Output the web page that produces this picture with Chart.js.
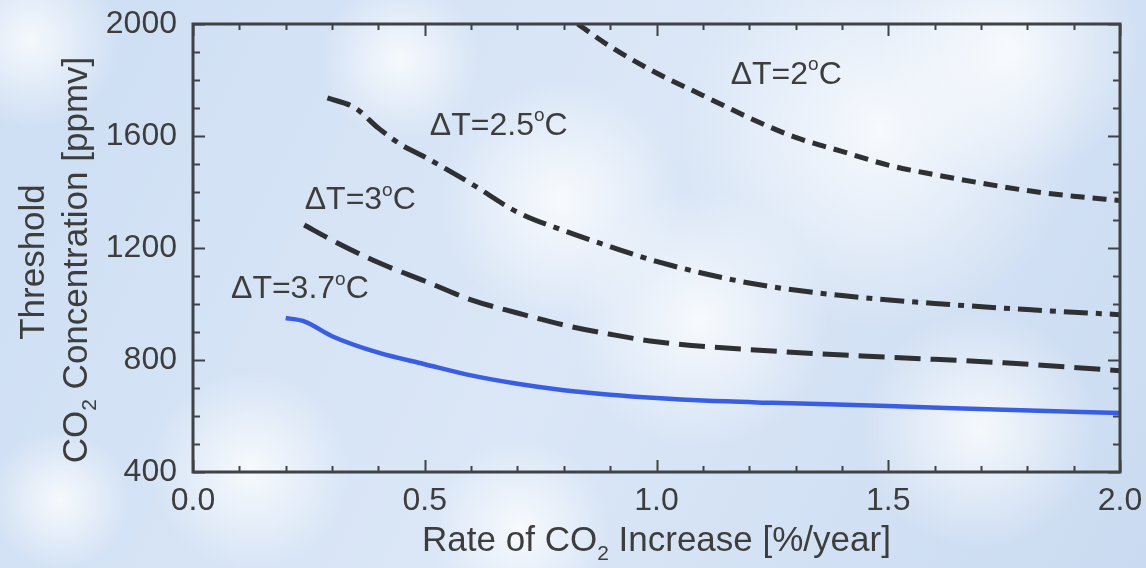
<!DOCTYPE html>
<html>
<head>
<meta charset="utf-8">
<script src="https://cdn.jsdelivr.net/npm/chart.js@4"></script>
<style>
  html, body { margin: 0; padding: 0; background: #d9e6f6; }
  canvas { display: block; }
</style>
</head>
<body>
<canvas id="chart" width="1146" height="568"></canvas>
<script>
// values
const rate37 = [0.20, 0.24, 0.30, 0.40, 0.50, 0.60, 0.70, 0.80, 0.90, 1.00, 1.10, 1.25, 1.50, 1.75, 2.00];
const co2_37 = [950, 938, 885, 826, 785, 745, 715, 692, 676, 664, 655, 647, 636, 622, 611];

const rate3 = [0.24, 0.30, 0.40, 0.50, 0.60, 0.70, 0.80, 0.90, 1.00, 1.25, 1.50, 1.75, 2.00];
const co2_3 = [1282, 1228, 1148, 1082, 1015, 968, 925, 892, 865, 832, 810, 790, 762];

const rate25 = [0.29, 0.35, 0.40, 0.45, 0.50, 0.60, 0.70, 0.80, 0.90, 1.00, 1.20, 1.40, 1.60, 1.80, 2.00];
const co2_25 = [1736, 1700, 1628, 1568, 1525, 1430, 1328, 1262, 1205, 1152, 1075, 1030, 1002, 980, 962];

const rate2 = [0.83, 0.90, 1.00, 1.10, 1.20, 1.30, 1.40, 1.50, 1.60, 1.70, 1.80, 1.90, 2.00];
const co2_2 = [2000, 1920, 1825, 1745, 1665, 1595, 1545, 1496, 1462, 1432, 1405, 1385, 1370];

const curveLabels = ['3.7', '3', '2.5', '2'];
const xTickValues = [0.0, 0.5, 1.0, 1.5, 2.0];
const yTickValues = [400, 800, 1200, 1600, 2000];

const FONT = '"Liberation Sans", Arial, Helvetica, sans-serif';
const TEXT = '#3d3d3d';
const INK = '#2e3033';

function pts(xs, ys) {
  return xs.map((x, i) => ({ x: x, y: ys[i] }));
}

// soft sky behind everything
const skyPlugin = {
  id: 'sky',
  beforeDraw(chart) {
    const { ctx, width, height } = chart;
    ctx.save();
    const g = ctx.createLinearGradient(0, 0, width, height);
    g.addColorStop(0, '#cddef3');
    g.addColorStop(0.5, '#dbe7f7');
    g.addColorStop(1, '#cadbf1');
    ctx.fillStyle = g;
    ctx.fillRect(0, 0, width, height);
    const blobs = [
      [880, 130, 200], [1010, 50, 130], [560, 200, 120], [700, 320, 130],
      [250, 470, 100], [30, 40, 90], [980, 430, 120], [520, 530, 90], [60, 500, 70], [400, 60, 80]
    ];
    blobs.forEach(([bx, by, r]) => {
      const rg = ctx.createRadialGradient(bx, by, 0, bx, by, r);
      rg.addColorStop(0, 'rgba(255,255,255,0.8)');
      rg.addColorStop(1, 'rgba(255,255,255,0)');
      ctx.fillStyle = rg;
      ctx.fillRect(bx - r, by - r, r * 2, r * 2);
    });
    ctx.restore();
  }
};

// frame, inward ticks, axis titles and curve labels
const decorPlugin = {
  id: 'decor',
  afterDraw(chart) {
    const { ctx, chartArea: a, scales } = chart;
    const xs = scales.x, ys = scales.y;
    ctx.save();
    ctx.strokeStyle = '#404346';
    ctx.lineWidth = 2;
    // minor / major ticks on all four sides
    for (let i = 0; i <= 20; i++) {
      const v = i / 10;
      const px = Math.round(xs.getPixelForValue(v)) + 0.5;
      const len = i % 5 === 0 ? 12 : 6;
      ctx.beginPath();
      ctx.moveTo(px, a.bottom); ctx.lineTo(px, a.bottom - len);
      ctx.moveTo(px, a.top); ctx.lineTo(px, a.top + len);
      ctx.stroke();
    }
    for (let v = 400; v <= 2000; v += 100) {
      const py = Math.round(ys.getPixelForValue(v)) + 0.5;
      const len = v % 400 === 0 ? 12 : 7;
      ctx.beginPath();
      ctx.moveTo(a.left, py); ctx.lineTo(a.left + len, py);
      ctx.moveTo(a.right, py); ctx.lineTo(a.right - len, py);
      ctx.stroke();
    }
    ctx.lineWidth = 3;
    ctx.strokeRect(a.left, a.top, a.right - a.left, a.bottom - a.top);

    ctx.fillStyle = TEXT;
    ctx.textBaseline = 'alphabetic';

    // text made of [string, kind] parts: kind 'n' normal, 'sub' subscript, 'sup' superscript
    function partsWidth(parts, size) {
      let w = 0;
      parts.forEach(([s, k]) => {
        ctx.font = (k === 'n' ? size : Math.round(size * 0.6)) + 'px ' + FONT;
        w += ctx.measureText(s).width;
      });
      return w;
    }
    function drawParts(parts, x, y, size) {
      parts.forEach(([s, k]) => {
        ctx.font = (k === 'n' ? size : Math.round(size * 0.6)) + 'px ' + FONT;
        let dy = 0;
        if (k === 'sub') dy = size * 0.25;
        if (k === 'sup') dy = -size * 0.42;
        ctx.fillText(s, x, y + dy);
        x += ctx.measureText(s).width;
      });
    }

    // x title
    const xt = [['Rate of CO', 'n'], ['2', 'sub'], [' Increase [%/year]', 'n']];
    const xw = partsWidth(xt, 35);
    drawParts(xt, (a.left + a.right) / 2 - xw / 2, 551, 35);

    // y title, two lines
    const y1 = [['Threshold', 'n']];
    const y2 = [['CO', 'n'], ['2', 'sub'], [' Concentration [ppmv]', 'n']];
    ctx.save();
    ctx.translate(44, 262);
    ctx.rotate(-Math.PI / 2);
    drawParts(y1, -partsWidth(y1, 35) / 2, 0, 35);
    ctx.restore();
    ctx.save();
    ctx.translate(87, 260);
    ctx.rotate(-Math.PI / 2);
    drawParts(y2, -partsWidth(y2, 35) / 2, 0, 35);
    ctx.restore();

    // curve labels, anchored in data space
    const anchors = [[0.082, 1021], [0.241, 1339], [0.511, 1604], [1.16, 1786]];
    curveLabels.forEach((t, i) => {
      const lx = xs.getPixelForValue(anchors[i][0]);
      const ly = ys.getPixelForValue(anchors[i][1]);
      drawParts([['\u0394T=' + t, 'n'], ['o', 'sup'], ['C', 'n']], lx, ly, 32);
    });
    ctx.restore();
  }
};

const curveStyle = {
  showLine: true,
  pointRadius: 0,
  fill: false,
  cubicInterpolationMode: 'monotone',
  borderCapStyle: 'butt'
};

new Chart(document.getElementById('chart'), {
  type: 'scatter',
  data: {
    datasets: [
      { ...curveStyle, label: '3.7', data: pts(rate37, co2_37), borderColor: '#3a5ee2', borderWidth: 4.5 },
      { ...curveStyle, label: '3', data: pts(rate3, co2_3), borderColor: INK, borderWidth: 5, borderDash: [26, 10] },
      { ...curveStyle, label: '2.5', data: pts(rate25, co2_25), borderColor: INK, borderWidth: 5, borderDash: [24, 8, 6, 8] },
      { ...curveStyle, label: '2', data: pts(rate2, co2_2), borderColor: INK, borderWidth: 5, borderDash: [14, 8] }
    ]
  },
  options: {
    responsive: false,
    animation: false,
    devicePixelRatio: 1,
    layout: { autoPadding: false, padding: { top: 24, right: 26, left: 0, bottom: 0 } },
    plugins: { legend: { display: false }, tooltip: { enabled: false } },
    scales: {
      x: {
        type: 'linear',
        min: 0, max: 2,
        afterFit: s => { s.height = 96; s.paddingLeft = 0; s.paddingRight = 0; },
        afterBuildTicks: s => { s.ticks = xTickValues.map(v => ({ value: v })); },
        grid: { display: false, drawTicks: false },
        border: { display: false },
        ticks: {
          padding: 10,
          color: TEXT,
          font: { family: FONT, size: 32 },
          callback: v => Number(v).toFixed(1)
        }
      },
      y: {
        type: 'linear',
        min: 400, max: 2000,
        afterFit: s => { s.width = 193; s.paddingTop = 0; s.paddingBottom = 0; },
        afterBuildTicks: s => { s.ticks = yTickValues.map(v => ({ value: v })); },
        grid: { display: false, drawTicks: false },
        border: { display: false },
        ticks: {
          padding: 16,
          color: TEXT,
          font: { family: FONT, size: 32 },
          callback: v => String(v)
        }
      }
    }
  },
  plugins: [skyPlugin, decorPlugin]
});
</script>
</body>
</html>
